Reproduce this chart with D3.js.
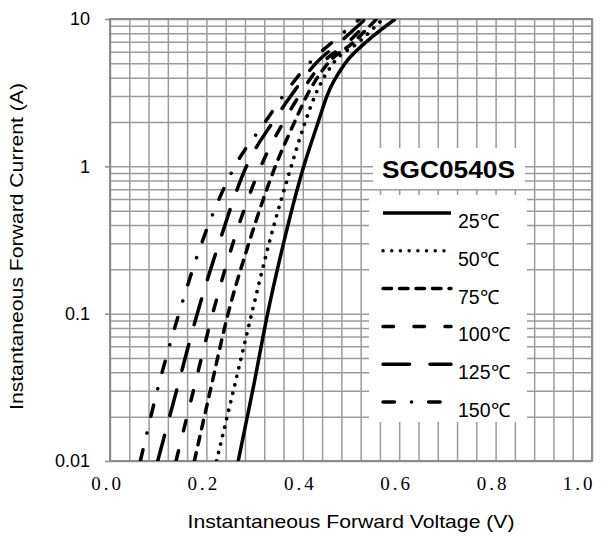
<!DOCTYPE html>
<html>
<head>
<meta charset="utf-8">
<script src="https://cdn.jsdelivr.net/npm/d3@7"></script>
<style>
  body { margin: 0; background: #fff; }
  svg { display: block; }
</style>
</head>
<body>
<div id="chart"></div>
<script>
// Data (current in A, voltage in V)
const currents = [0.01, 0.03, 0.1, 0.3, 1, 2, 3, 5, 7, 10];
const v25  = [0.266, 0.296, 0.327, 0.360, 0.402, 0.432, 0.450, 0.488, 0.532, 0.592];
const v50  = [0.221, 0.256, 0.294, 0.330, 0.376, 0.405, 0.425, 0.463, 0.517, 0.566];
const v75  = [0.175, 0.208, 0.245, 0.288, 0.343, 0.383, 0.408, 0.452, 0.506, 0.553];
const v100 = [0.137, 0.173, 0.213, 0.255, 0.313, 0.360, 0.392, 0.440, 0.495, 0.540];
const v125 = [0.099, 0.138, 0.181, 0.226, 0.283, 0.338, 0.375, 0.427, 0.478, 0.530];
const v150 = [0.063, 0.098, 0.143, 0.190, 0.259, 0.322, 0.359, 0.413, 0.462, 0.518];
const tempLabels = ["25℃", "50℃", "75℃", "100℃", "125℃", "150℃"];

const xTicks = [0, 0.2, 0.4, 0.6, 0.8, 1.0];
const yTicks = [0.01, 0.1, 1, 10];
const yTickLabels = ["0.01", "0.1", "1", "10"];
const partName = "SGC0540S";

// line looks per series
const dashes = [null, "0.1,8.6", "8.5,8", "10.5,20.5", "26.5,20.5", "11.5,17,0.1,17"];

const width = 602, height = 537;
const margin = {top: 19, right: 10, bottom: 76, left: 110};
const w = width - margin.left - margin.right;   // 482
const h = height - margin.top - margin.bottom;  // 442

const svg = d3.select("#chart").append("svg")
  .attr("width", width)
  .attr("height", height)
  .style("font-family", "'Liberation Sans', Arial, sans-serif");

const g = svg.append("g")
  .attr("transform", `translate(${margin.left},${margin.top})`);

const x = d3.scaleLinear().domain([0, 1]).range([0, w]);
const y = d3.scaleLog().domain([0.01, 10]).range([h, 0]);

// grid
const gridX = d3.range(0, 26).map(i => i * 0.04);
const gridY = [];
[0.01, 0.1, 1].forEach(dec => { for (let k = 1; k <= 9; k++) gridY.push(dec * k); });
gridY.push(10);

g.append("g")
  .attr("class", "grid")
  .attr("transform", `translate(0,${h})`)
  .call(d3.axisBottom(x).tickValues(gridX).tickSize(-h).tickFormat(""))
  .call(a => a.select(".domain").remove());

g.append("g")
  .attr("class", "grid")
  .call(d3.axisLeft(y).tickValues(gridY).tickSize(-w).tickFormat(""))
  .call(a => a.select(".domain").remove());

g.selectAll(".grid line")
  .attr("stroke", "#9b9b9b")
  .attr("stroke-width", 1.5);

// frame
g.append("rect")
  .attr("width", w)
  .attr("height", h)
  .attr("fill", "none")
  .attr("stroke", "#8c8c8c")
  .attr("stroke-width", 2);

// y axis ticks + labels
const yAxis = g.append("g")
  .call(d3.axisLeft(y).tickValues(yTicks).tickSize(5).tickPadding(15)
    .tickFormat((d, i) => yTickLabels[i]));
yAxis.select(".domain").remove();
yAxis.selectAll("line").attr("stroke", "#8c8c8c").attr("stroke-width", 1.5);
yAxis.selectAll("text")
  .attr("fill", "#000")
  .style("font-size", "18px")
  .style("font-family", "'Liberation Sans', Arial, sans-serif");

// x axis labels
const xAxis = g.append("g")
  .attr("transform", `translate(0,${h})`)
  .call(d3.axisBottom(x).tickValues(xTicks).tickSize(0).tickPadding(16)
    .tickFormat(d3.format(".1f")));
xAxis.select(".domain").remove();
xAxis.selectAll("text")
  .attr("fill", "#000")
  .attr("dx", -3)
  .style("font-size", "19px")
  .style("letter-spacing", "3px")
  .style("font-family", "'Liberation Serif', 'Times New Roman', serif");
// last label sits inside the frame
xAxis.selectAll("text")
  .filter(d => d === 1)
  .attr("text-anchor", "end")
  .attr("dx", 3);

// curves
const series = [v25, v50, v75, v100, v125, v150].map((vals, i) => ({
  name: tempLabels[i],
  pts: currents.map((c, j) => ({I: c, V: vals[j]})),
  dash: dashes[i]
}));

svg.append("clipPath").attr("id", "plotclip")
  .append("rect").attr("width", w).attr("height", h);

const lineGen = d3.line()
  .x(d => x(d.V))
  .y(d => y(d.I))
  .curve(d3.curveMonotoneX);

g.append("g")
  .attr("clip-path", "url(#plotclip)")
  .selectAll("path")
  .data(series)
  .join("path")
  .attr("d", d => lineGen(d.pts))
  .attr("fill", "none")
  .attr("stroke", "#000")
  .attr("stroke-width", (d, i) => i === 1 ? 3.7 : 3.5)
  .attr("stroke-linecap", d => d.dash ? "round" : "butt")
  .attr("stroke-dasharray", d => d.dash);

// legend (white boxes over the grid)
const lg = svg.append("g");
lg.append("rect")
  .attr("x", 373).attr("y", 148).attr("width", 152).attr("height", 41)
  .attr("fill", "#fff");
lg.append("rect")
  .attr("x", 369).attr("y", 195).attr("width", 158).attr("height", 227)
  .attr("fill", "#fff");

lg.append("text")
  .attr("x", 382).attr("y", 177.5)
  .attr("textLength", 133)
  .attr("lengthAdjust", "spacingAndGlyphs")
  .style("font-size", "23px")
  .style("font-weight", "bold")
  .text(partName);

const legendY0 = 213, legendStep = 37.8;
const items = lg.selectAll("g.item")
  .data(series)
  .join("g")
  .attr("class", "item")
  .attr("transform", (d, i) => `translate(0,${legendY0 + i * legendStep})`);

items.append("line")
  .attr("x1", 383).attr("x2", 451)
  .attr("stroke", "#000")
  .attr("stroke-width", (d, i) => i === 1 ? 3.4 : 3.5)
  .attr("stroke-linecap", d => d.dash ? "round" : "butt")
  .attr("stroke-dasharray", d => d.dash);

items.append("text")
  .attr("x", 458).attr("y", 15)
  .style("font-size", "19.5px")
  .text(d => d.name);

// axis titles
svg.append("text")
  .attr("x", margin.left + w / 2).attr("y", 528)
  .attr("text-anchor", "middle")
  .attr("textLength", 327)
  .attr("lengthAdjust", "spacingAndGlyphs")
  .style("font-size", "18.5px")
  .text("Instantaneous Forward Voltage (V)");

svg.append("text")
  .attr("transform", "translate(23,246.5) rotate(-90)")
  .attr("text-anchor", "middle")
  .attr("textLength", 327)
  .attr("lengthAdjust", "spacingAndGlyphs")
  .style("font-size", "18.5px")
  .text("Instantaneous Forward Current (A)");
</script>
</body>
</html>
